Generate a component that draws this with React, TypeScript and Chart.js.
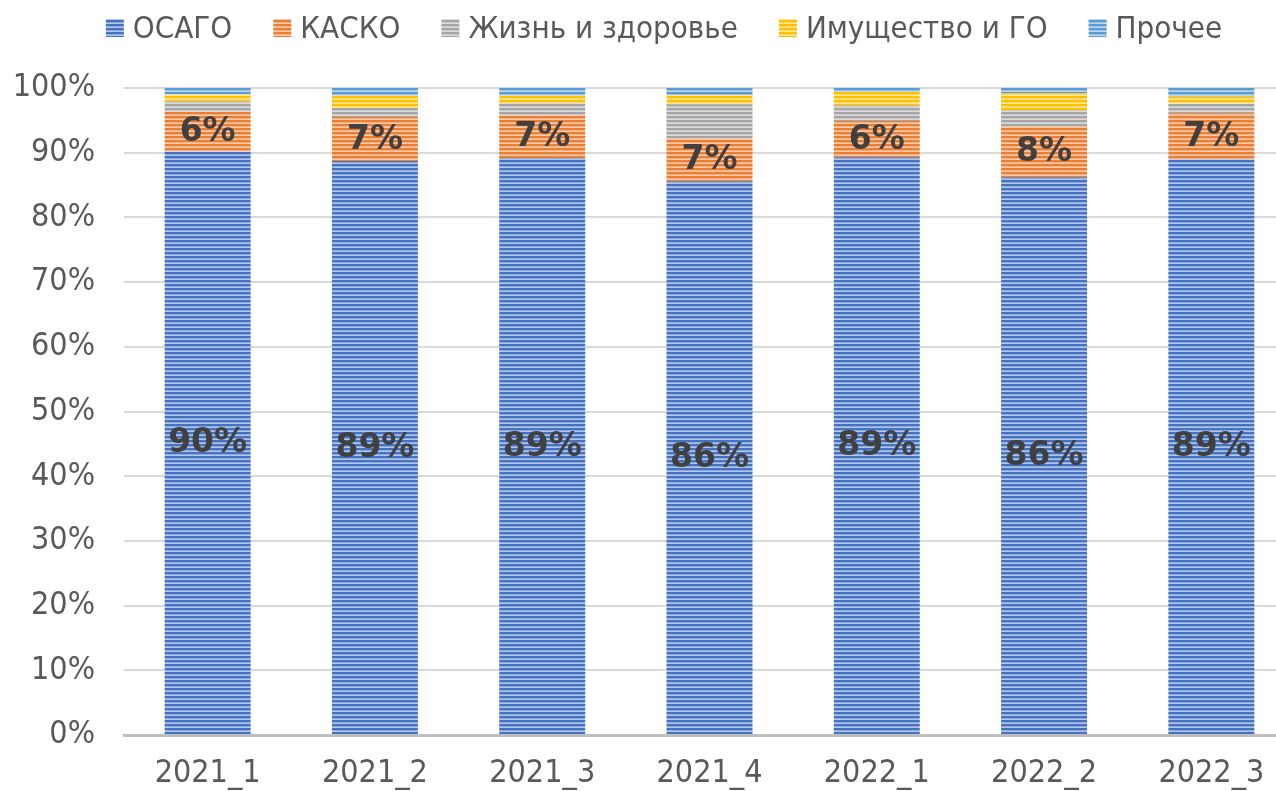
import React, { useEffect, useRef } from "react";
import { Chart, registerables } from "chart.js";

Chart.register(...registerables);

const categories = ["2021_1", "2021_2", "2021_3", "2021_4", "2022_1", "2022_2", "2022_3"];
const seriesNames = ["ОСАГО", "КАСКО", "Жизнь и здоровье", "Имущество и ГО", "Прочее"];
const osago = [90.2, 88.7, 89.2, 85.6, 89.3, 86.2, 89.0];
const kasko = [6.1, 6.8, 6.6, 6.6, 5.6, 7.9, 7.1];
const life = [1.6, 1.4, 1.9, 5.3, 2.4, 2.5, 1.5];
const property = [1.1, 1.9, 1.1, 1.4, 2.1, 2.6, 1.1];
const other = [1.0, 1.2, 1.2, 1.1, 0.6, 0.8, 1.3];
const labeledSeries = [0, 1];
const yTickStep = 10;

const darkColors = ["#4472C4", "#ED7D31", "#A5A5A5", "#FFC000", "#5B9BD5"];
const lightColors = ["#B4C7E7", "#F8CBAD", "#DBDBDB", "#FFE699", "#BDD7EE"];

const FAMILY = '"DejaVu Sans Condensed", "DejaVu Sans", sans-serif';
const TEXT_COLOR = "#595959";

function makePattern(dark: string, light: string): CanvasPattern | string {
  const c = document.createElement("canvas");
  c.width = 4;
  c.height = 4;
  const g = c.getContext("2d");
  if (!g) return dark;
  g.fillStyle = dark;
  g.fillRect(0, 0, 4, 2);
  g.fillStyle = light;
  g.fillRect(0, 2, 4, 2);
  g.globalAlpha = 0.35;
  g.fillStyle = dark;
  g.fillRect(0, 2, 4, 1);
  const p = g.createPattern(c, "repeat");
  return p || dark;
}

const legendPlugin = {
  id: "customLegend",
  afterDraw(chart: any) {
    const ctx = chart.ctx as CanvasRenderingContext2D;
    ctx.save();
    ctx.font = `31px ${FAMILY}`;
    const widths = seriesNames.map((n) => ctx.measureText(n).width);
    const box = 18;
    const gap = 9;
    const spacing = 41;
    const total = widths.reduce((a, w) => a + box + gap + w, 0) + spacing * (seriesNames.length - 1);
    let x = 664 - total / 2;
    const cy = 28;
    seriesNames.forEach((name, i) => {
      ctx.fillStyle = chart.data.datasets[i].backgroundColor;
      ctx.fillRect(x, cy - 9, box, box);
      x += box + gap;
      ctx.fillStyle = TEXT_COLOR;
      ctx.textBaseline = "middle";
      ctx.textAlign = "left";
      ctx.fillText(name, x, cy + 2);
      x += widths[i] + spacing;
    });
    ctx.restore();
  },
};

const labelPlugin = {
  id: "barLabels",
  afterDatasetsDraw(chart: any) {
    const ctx = chart.ctx as CanvasRenderingContext2D;
    ctx.save();
    ctx.font = `bold 33px "DejaVu Sans", sans-serif`;
    ctx.fillStyle = "#404040";
    ctx.textAlign = "center";
    ctx.textBaseline = "middle";
    labeledSeries.forEach((di) => {
      const meta = chart.getDatasetMeta(di);
      const data = chart.data.datasets[di].data as number[];
      meta.data.forEach((el: any, i: number) => {
        const y = (el.y + el.base) / 2;
        ctx.fillText(Math.round(data[i]) + "%", el.x, y + 1);
      });
    });
    ctx.restore();
  },
};

export default function App() {
  const ref = useRef<HTMLCanvasElement>(null);

  useEffect(() => {
    if (!ref.current) return;
    const series = [osago, kasko, life, property, other];
    const chart = new Chart(ref.current, {
      type: "bar",
      data: {
        labels: categories,
        datasets: series.map((d, i) => ({
          label: seriesNames[i],
          data: d,
          backgroundColor: makePattern(darkColors[i], lightColors[i]) as any,
          borderWidth: 0,
          barPercentage: 0.514,
          categoryPercentage: 1,
        })),
      },
      options: {
        responsive: false,
        animation: false,
        devicePixelRatio: 1,
        layout: { padding: { top: 88, right: 5, bottom: 0, left: 0 } },
        plugins: {
          legend: { display: false },
          tooltip: { enabled: false },
        },
        scales: {
          x: {
            stacked: true,
            afterFit: (scale: any) => {
              scale.height = 56;
            },
            grid: { display: false, drawTicks: false },
            border: { display: true, color: "#BFBFBF", width: 3 },
            ticks: {
              color: TEXT_COLOR,
              font: { family: FAMILY, size: 32 },
              padding: 19,
            },
          },
          y: {
            stacked: true,
            min: 0,
            max: 100,
            afterFit: (scale: any) => {
              scale.width = 124;
            },
            grid: {
              drawTicks: false,
              color: (c: any) => (c.tick && c.tick.value === 0 ? "rgba(0,0,0,0)" : "#D9D9D9"),
              lineWidth: 2,
            },
            border: { display: false },
            ticks: {
              stepSize: yTickStep,
              color: TEXT_COLOR,
              font: { family: FAMILY, size: 32 },
              padding: 29,
              callback: (v: any) => v + "%",
            },
          },
        },
      },
      plugins: [legendPlugin, labelPlugin],
    });
    return () => chart.destroy();
  }, []);

  return (
    <div
      style={{
        position: "fixed",
        left: 0,
        top: 0,
        width: 1276,
        height: 791,
        overflow: "hidden",
        background: "#FFFFFF",
      }}
    >
      <canvas ref={ref} width={1300} height={791} style={{ display: "block" }} />
    </div>
  );
}
